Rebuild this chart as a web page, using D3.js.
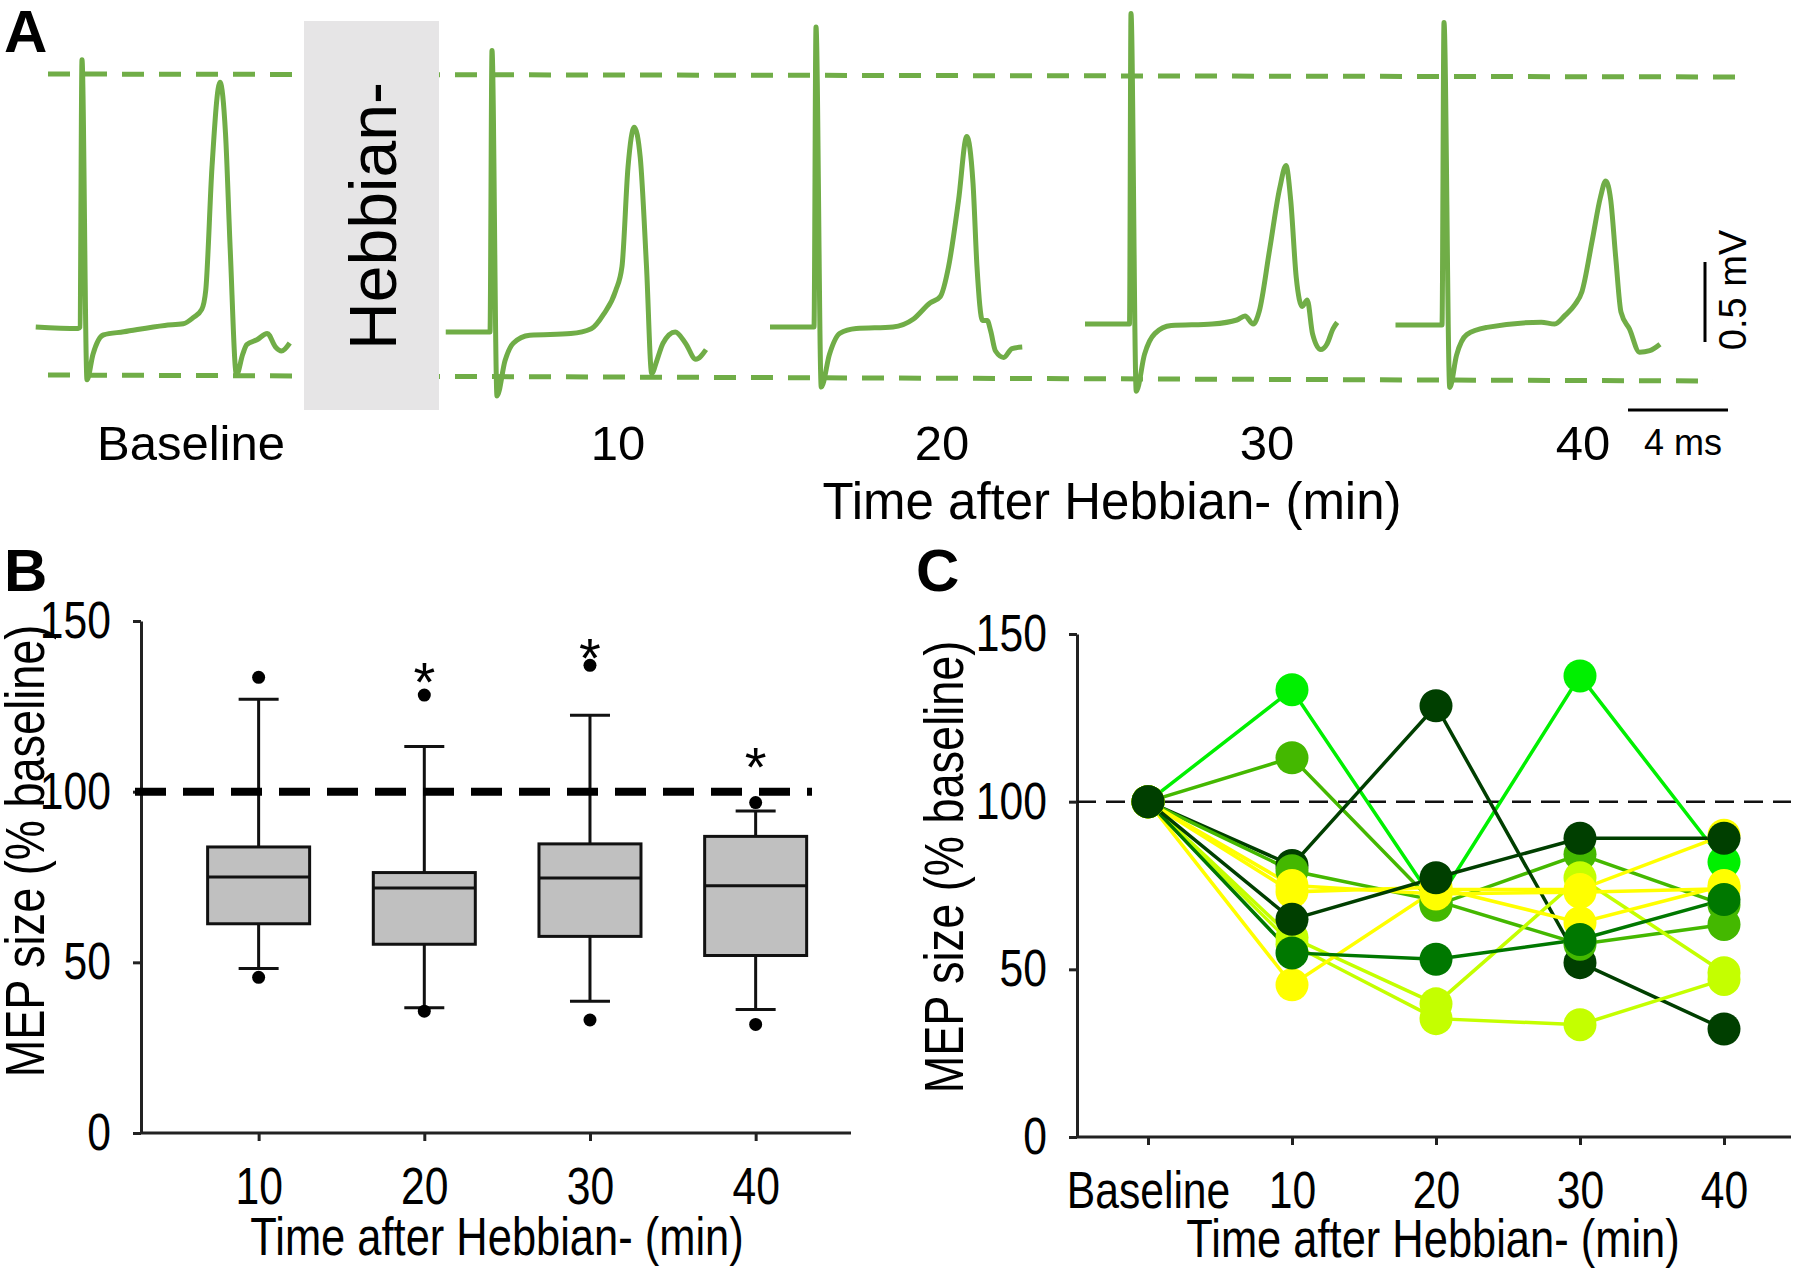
<!DOCTYPE html>
<html>
<head>
<meta charset="utf-8">
<script src="https://cdnjs.cloudflare.com/ajax/libs/d3/7.8.5/d3.min.js"></script>
<style>
    body { margin: 0; background: #fff; }
    svg { display: block; }
    text { font-family: "Liberation Sans", Arial, sans-serif; fill: #000; }
</style>
</head>
<body>
<svg width="1800" height="1273"></svg>
<script>
/* global d3 */
//--------------------------DATA------------------------------------------------
// panel A: example MEP traces, [time from stimulus (ms), amplitude (mV)]
var traceNames = ["Baseline", "10", "20", "30", "40"];
var traceBaseline = [
    [-1.85, 0], [-0.15, -0.01], [-0.08, 0], [0, 1.67], [0.2, -0.33], [0.44, -0.17], [0.85, -0.05],
    [1.67, -0.03], [3.31, 0.01], [4.05, 0.02], [4.46, 0.06], [4.79, 0.11], [4.95, 0.23], [5.2, 1.0],
    [5.52, 1.53], [5.74, 1.21], [5.93, 0.48], [6.18, -0.30], [6.43, -0.17], [6.59, -0.11], [7.0, -0.08],
    [7.41, -0.04], [7.74, -0.125], [7.98, -0.15], [8.31, -0.10]
];
var trace10 = [
    [-1.85, 0], [-0.16, 0], [-0.08, 0], [0, 1.76], [0.2, -0.40], [0.52, -0.18], [0.85, -0.07],
    [1.51, -0.02], [3.15, -0.01], [3.97, 0.02], [4.46, 0.11], [4.95, 0.26], [5.2, 0.41], [5.44, 1.03],
    [5.69, 1.28], [5.93, 1.09], [6.18, 0.41], [6.39, -0.26], [6.59, -0.18], [6.84, -0.07], [7.33, 0.0],
    [7.74, -0.07], [8.15, -0.17], [8.56, -0.11]
];
var trace20 = [
    [-1.84, 0], [-0.16, 0], [-0.08, 0], [0, 1.875], [0.21, -0.375], [0.54, -0.17], [0.95, -0.04],
    [1.61, -0.01], [3.08, 0.0], [3.9, 0.05], [4.56, 0.15], [4.97, 0.19], [5.3, 0.375], [5.7, 0.79],
    [6.03, 1.19], [6.28, 0.9], [6.44, 0.375], [6.66, 0.04], [6.85, 0.04], [6.98, -0.02], [7.18, -0.15],
    [7.51, -0.19], [7.84, -0.135], [8.25, -0.125]
];
var trace30 = [
    [-1.84, 0], [-0.11, 0], [-0.06, 0], [0, 1.94], [0.21, -0.42], [0.54, -0.19], [0.95, -0.06],
    [1.61, -0.01], [3.25, 0], [4.23, 0.025], [4.56, 0.05], [4.89, 0], [5.13, 0.08], [5.54, 0.46],
    [5.95, 0.85], [6.2, 0.99], [6.39, 0.77], [6.61, 0.29], [6.85, 0.11], [7.05, 0.15], [7.26, -0.06],
    [7.59, -0.16], [7.84, -0.125], [8.08, -0.03], [8.25, 0.01]
];
var trace40 = [
    [-1.94, 0], [-0.18, 0], [-0.08, 0], [0, 1.89], [0.23, -0.39], [0.5, -0.19], [0.91, -0.06],
    [1.72, -0.015], [3.89, 0.017], [4.43, 0.006], [4.84, 0.06], [5.25, 0.13], [5.52, 0.21], [5.93, 0.53],
    [6.26, 0.80], [6.47, 0.90], [6.67, 0.78], [6.87, 0.42], [7.08, 0.08], [7.42, -0.025], [7.82, -0.17],
    [8.23, -0.16], [8.64, -0.12]
];
var traces = [traceBaseline, trace10, trace20, trace30, trace40];

// panel B: box plot of MEP size (% baseline)
var boxTimes = [10, 20, 30, 40];
var boxLow = [48.2, 36.7, 38.6, 36.2];
var boxQ1 = [61.3, 55.3, 57.6, 52.0];
var boxMedian = [75.0, 71.8, 74.7, 72.4];
var boxQ3 = [83.8, 76.3, 84.7, 86.9];
var boxHigh = [127.1, 113.2, 122.4, 94.3];
var outlierLow = [45.6, 35.7, 33.1, 31.8];
var outlierHigh = [133.5, 128.3, 137.0, 96.8];
var starLabel = ["", "*", "*", "*"];
var starAt = [0, 136, 143, 111];

// panel C: individual subjects
var timepoints = ["Baseline", "10", "20", "30", "40"];
var subjLime   = [100, 133.4, 69.5, 137.5, 82.0];
var subjMid1   = [100, 113.1, 69.1, 84.3, 69.2];
var subjDark1  = [100, 81.0, 128.6, 52.0, 32.2];
var subjMid2   = [100, 79.4, 70.5, 57.5, 63.4];
var subjYG1    = [100, 59.5, 39.7, 77.3, 49.0];
var subjYG2    = [100, 57.5, 35.3, 33.5, 47.0];
var subjYel1   = [100, 45.4, 73.8, 73.8, 90.0];
var subjYel2   = [100, 73.1, 74.5, 63.9, 75.0];
var subjYel3   = [100, 75.0, 72.5, 73.0, 74.0];
var subjGreen  = [100, 54.9, 53.0, 58.9, 70.8];
var subjDark2  = [100, 64.9, 77.3, 89.1, 89.1];
var subjects = [subjLime, subjMid1, subjDark1, subjMid2, subjYG1, subjYG2,
                subjYel1, subjYel2, subjYel3, subjGreen, subjDark2];
var subjectColors = ["#00f000", "#44b800", "#003f00", "#44b800", "#c4ff00", "#c4ff00",
                     "#ffff00", "#ffff00", "#ffff00", "#007800", "#003f00"];


//--------------------------SETUP-----------------------------------------------
var svg = d3.select("svg");
svg.append("rect").attr("width", 1800).attr("height", 1273).attr("fill", "#fff");
var traceGreen = "#70ad47";
var NARROW = 0.82;  // panels B and C use a condensed face

function panelLetter(label, x, y) {
    svg.append("text")
        .attr("x", x).attr("y", y)
        .style("font-size", "60px")
        .style("font-weight", "bold")
        .text(label);
}

// condensed text: translate, optional rotation, then squeeze along the text direction
function narrowText(g, x, y, rot, size, str) {
    return g.append("text")
        .attr("transform", "translate(" + x + "," + y + ")" + (rot ? " rotate(" + rot + ")" : "") +
              " scale(" + NARROW + ",1)")
        .attr("text-anchor", "middle")
        .style("font-size", size + "px")
        .text(str);
}

function styleAxis(g, left) {
    g.selectAll(".tick text")
        .attr("font-family", null)
        .attr("font-size", null)
        .style("font-size", "52px")
        .attr("x", function() { return left ? +d3.select(this).attr("x") / NARROW : 0; })
        .attr("transform", "scale(" + NARROW + ",1)");
    g.selectAll(".tick line").style("stroke", "#222").style("stroke-width", 3);
    g.selectAll(".domain").style("stroke", "#222").style("stroke-width", 3);
    g.attr("font-family", null).attr("font-size", null);
}


//--------------------------PANEL A---------------------------------------------
var gA = svg.append("g");
panelLetter("A", 4, 52);

// scale: 25 px per ms, 160 px per mV (from the scale bars)
var tA = d3.scaleLinear().domain([0, 1]).range([0, 25]);
var vA = d3.scaleLinear().domain([0, 1]).range([0, -160]);
var stimX = [82, 492, 816, 1131, 1444];
var restY = [327, 332, 327, 324, 325];

// dashed reference levels
gA.append("line")
    .attr("x1", 48).attr("y1", 74).attr("x2", 1748).attr("y2", 77)
    .style("stroke", traceGreen).style("stroke-width", 5).style("stroke-dasharray", "22,15");
gA.append("line")
    .attr("x1", 48).attr("y1", 375).attr("x2", 1713).attr("y2", 381)
    .style("stroke", traceGreen).style("stroke-width", 5).style("stroke-dasharray", "22,15");

// intervention box
gA.append("rect")
    .attr("x", 304).attr("y", 21).attr("width", 135).attr("height", 389)
    .style("fill", "#e6e5e6");
gA.append("text")
    .attr("transform", "translate(396,216) rotate(-90)")
    .attr("text-anchor", "middle")
    .style("font-size", "66px")
    .text("Hebbian-");

var traceLine = d3.line()
    .x(function(d) { return tA(d[0]); })
    .y(function(d) { return vA(d[1]); })
    .curve(d3.curveMonotoneX);

traces.forEach(function(tr, i) {
    gA.append("path")
        .attr("transform", "translate(" + stimX[i] + "," + restY[i] + ")")
        .attr("d", traceLine(tr))
        .style("fill", "none")
        .style("stroke", traceGreen)
        .style("stroke-width", 5)
        .style("stroke-linejoin", "round");
});

var labelX = [191, 618, 942, 1267, 1583];
gA.selectAll(".tracelabel")
    .data(traceNames)
    .enter().append("text")
    .attr("x", function(d, i) { return labelX[i]; })
    .attr("y", 460)
    .attr("text-anchor", "middle")
    .style("font-size", "49px")
    .text(function(d) { return d; });
gA.append("text")
    .attr("x", 1112).attr("y", 519)
    .attr("text-anchor", "middle")
    .style("font-size", "51px")
    .text("Time after Hebbian- (min)");

// scale bars
var barX = 1628, barY = 410;
gA.append("line")
    .attr("x1", barX).attr("x2", barX + tA(4)).attr("y1", barY).attr("y2", barY)
    .style("stroke", "#000").style("stroke-width", 3);
gA.append("text")
    .attr("x", 1683).attr("y", 455)
    .attr("text-anchor", "middle")
    .style("font-size", "36px")
    .text("4 ms");
gA.append("line")
    .attr("x1", 1705).attr("x2", 1705).attr("y1", 342).attr("y2", 342 + vA(0.5))
    .style("stroke", "#000").style("stroke-width", 3);
gA.append("text")
    .attr("transform", "translate(1746,290) rotate(-90)")
    .attr("text-anchor", "middle")
    .style("font-size", "38px")
    .text("0.5 mV");


//--------------------------PANEL B---------------------------------------------
var gB = svg.append("g");
panelLetter("B", 4, 591);

var xB = d3.scaleLinear().domain([2.9, 46.6]).range([141, 865]);
var yB = d3.scaleLinear().domain([0, 150]).range([1133, 621]);

var yAxisB = gB.append("g")
    .attr("transform", "translate(141,0)")
    .call(d3.axisLeft(yB).tickValues([0, 50, 100, 150]).tickSize(8).tickSizeOuter(0).tickPadding(22));
styleAxis(yAxisB, true);
var xAxisB = gB.append("g")
    .attr("transform", "translate(0,1133)")
    .call(d3.axisBottom(xB).tickValues(boxTimes).tickSize(8).tickSizeOuter(0).tickPadding(26));
xAxisB.select(".domain").remove();
styleAxis(xAxisB, false);
gB.append("line")
    .attr("x1", 141).attr("x2", 851).attr("y1", 1133).attr("y2", 1133)
    .style("stroke", "#222").style("stroke-width", 3);

var boxes = boxTimes.map(function(t, i) {
    return { t: t, lo: boxLow[i], q1: boxQ1[i], med: boxMedian[i], q3: boxQ3[i], hi: boxHigh[i],
             olo: outlierLow[i], ohi: outlierHigh[i], star: starLabel[i], starAt: starAt[i] };
});
var boxW = 102, capW = 40;

// whiskers
gB.selectAll(".whisker")
    .data(boxes)
    .enter().append("path")
    .attr("d", function(d) {
        var x = xB(d.t);
        return "M" + (x - capW / 2) + "," + yB(d.hi) + "H" + (x + capW / 2) +
               "M" + x + "," + yB(d.hi) + "V" + yB(d.lo) +
               "M" + (x - capW / 2) + "," + yB(d.lo) + "H" + (x + capW / 2);
    })
    .style("fill", "none").style("stroke", "#111").style("stroke-width", 3);

// reference line at 100%
gB.append("line")
    .attr("x1", 135).attr("x2", 812).attr("y1", yB(100)).attr("y2", yB(100))
    .style("stroke", "#000").style("stroke-width", 8).style("stroke-dasharray", "31,17");

gB.selectAll(".box")
    .data(boxes)
    .enter().append("rect")
    .attr("x", function(d) { return xB(d.t) - boxW / 2; })
    .attr("y", function(d) { return yB(d.q3); })
    .attr("width", boxW)
    .attr("height", function(d) { return yB(d.q1) - yB(d.q3); })
    .style("fill", "#c0c0c0").style("stroke", "#111").style("stroke-width", 3);
gB.selectAll(".median")
    .data(boxes)
    .enter().append("line")
    .attr("x1", function(d) { return xB(d.t) - boxW / 2; })
    .attr("x2", function(d) { return xB(d.t) + boxW / 2; })
    .attr("y1", function(d) { return yB(d.med); })
    .attr("y2", function(d) { return yB(d.med); })
    .style("stroke", "#111").style("stroke-width", 3);

var outliers = [];
boxes.forEach(function(d) {
    outliers.push({ t: d.t, v: d.olo });
    outliers.push({ t: d.t, v: d.ohi });
});
gB.selectAll(".outlier")
    .data(outliers)
    .enter().append("circle")
    .attr("cx", function(d) { return xB(d.t); })
    .attr("cy", function(d) { return yB(d.v); })
    .attr("r", 6.5)
    .style("fill", "#000");

gB.selectAll(".star")
    .data(boxes.filter(function(d) { return d.star; }))
    .enter().append("text")
    .attr("x", function(d) { return xB(d.t); })
    .attr("y", function(d) { return yB(d.starAt) + 32; })
    .attr("text-anchor", "middle")
    .style("font-size", "56px")
    .text(function(d) { return d.star; });

narrowText(gB, 497, 1255, 0, 53, "Time after Hebbian- (min)");
narrowText(gB, 44, 851, -90, 55, "MEP size (% baseline)");


//--------------------------PANEL C---------------------------------------------
var gC = svg.append("g");
panelLetter("C", 916, 591);

var xC = d3.scalePoint().domain(timepoints).range([1148, 1724]);
var yC = d3.scaleLinear().domain([0, 150]).range([1137, 634]);

var yAxisC = gC.append("g")
    .attr("transform", "translate(1077,0)")
    .call(d3.axisLeft(yC).tickValues([0, 50, 100, 150]).tickSize(8).tickSizeOuter(0).tickPadding(22));
styleAxis(yAxisC, true);
var xAxisC = gC.append("g")
    .attr("transform", "translate(0,1137)")
    .call(d3.axisBottom(xC).tickSize(8).tickSizeOuter(0).tickPadding(26));
xAxisC.select(".domain").remove();
styleAxis(xAxisC, false);
gC.append("line")
    .attr("x1", 1077).attr("x2", 1791).attr("y1", 1137).attr("y2", 1137)
    .style("stroke", "#222").style("stroke-width", 3);

gC.append("line")
    .attr("x1", 1077).attr("x2", 1791).attr("y1", yC(100)).attr("y2", yC(100))
    .style("stroke", "#111").style("stroke-width", 2.5).style("stroke-dasharray", "19,10");

var subjLine = d3.line()
    .x(function(d, i) { return xC(timepoints[i]); })
    .y(function(d) { return yC(d); });

gC.selectAll(".subject")
    .data(subjects)
    .enter().append("path")
    .attr("d", function(d) { return subjLine(d); })
    .style("fill", "none")
    .style("stroke", function(d, i) { return subjectColors[i]; })
    .style("stroke-width", 3.5);

subjects.forEach(function(s, i) {
    gC.selectAll(".dot" + i)
        .data(s)
        .enter().append("circle")
        .attr("cx", function(d, j) { return xC(timepoints[j]); })
        .attr("cy", function(d) { return yC(d); })
        .attr("r", 16.5)
        .style("fill", subjectColors[i]);
});

narrowText(gC, 1433, 1257, 0, 53, "Time after Hebbian- (min)");
narrowText(gC, 963, 867, -90, 55, "MEP size (% baseline)");
</script>
</body>
</html>
